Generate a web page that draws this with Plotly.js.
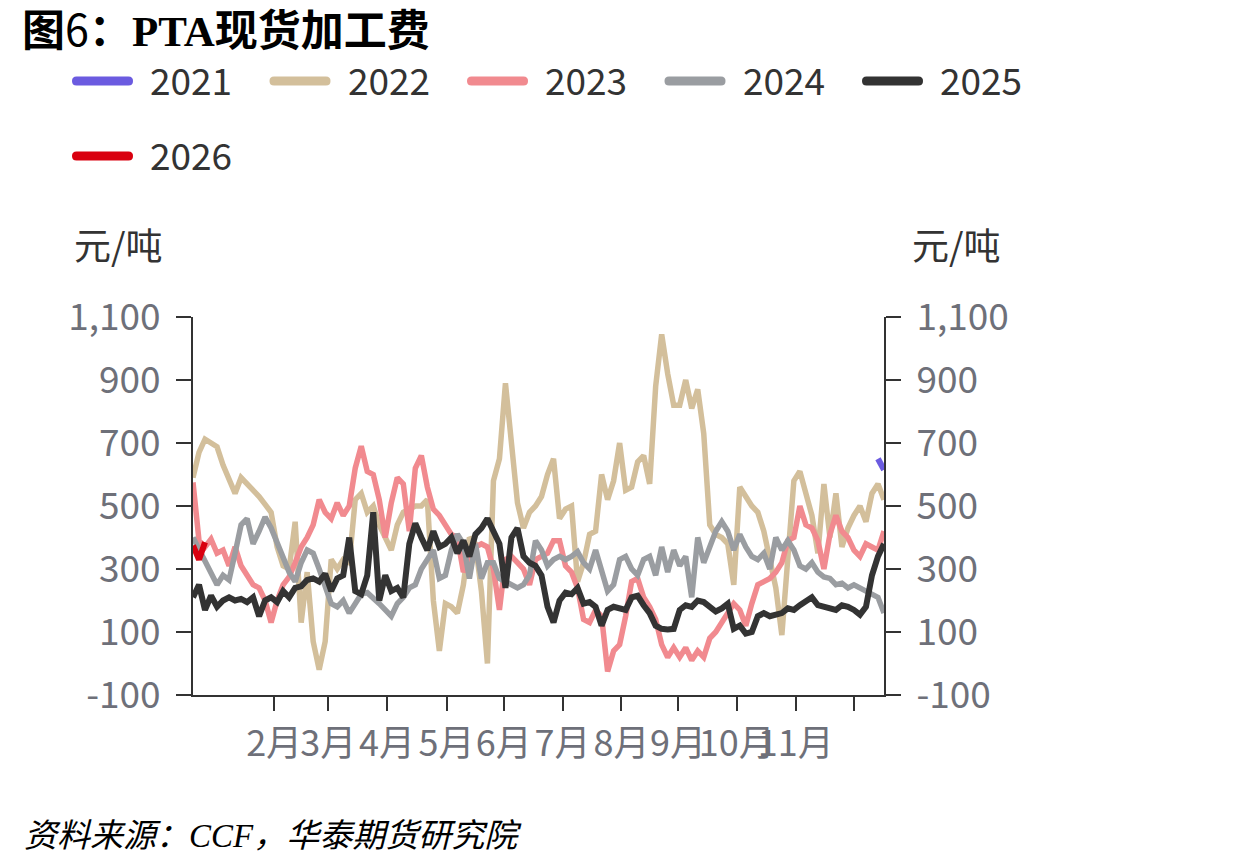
<!DOCTYPE html>
<html>
<head>
<meta charset="utf-8">
<script src="https://cdn.plot.ly/plotly-3.0.1.min.js"></script>
<style>
  html, body { margin: 0; padding: 0; background: #fff; }
  #chart { width: 1240px; height: 866px; }
</style>
</head>
<body>
<div id="chart"></div>
<script>
// PTA spot processing fee (元/吨), one line per year, sampled on a shared seasonal index
const seriesNames = ['2021', '2022', '2023', '2024', '2025', '2026'];
const seriesColors = ['#6B5BE0', '#D3BF9B', '#F18A8F', '#9A9DA1', '#333333', '#D9000F'];

// 2021: only the closing days of the year are present
const start2021 = 114;
const values2021 = [650, 615];

const values2022 = [
  590, 670, 712, 700, 688, 630, 590, 540, 590, 570,
  555, 530, 505, 480, 370, 310, 300, 450, 130, 290,
  70, -20, 70, 330, 300, 330, 320, 520, 540, 480,
  500, 440, 400, 360, 440, 480, 490, 500, 500, 520,
  200, 40, 190, 180, 160, 250, 400, 380, 230, 0,
  580, 650, 890, 700, 510, 430, 480, 500, 530, 600,
  650, 460, 490, 500, 260, 320, 410, 420, 600, 520,
  580, 700, 550, 560, 640, 660, 570, 880, 1045, 920,
  820, 820, 900, 810, 870, 730, 440, 410, 400, 380,
  250, 560, 530, 500, 480, 420, 330, 240, 90, 320,
  580, 610, 540, 470, 350, 570, 400, 540, 370, 430,
  470, 500, 450, 540, 570, 520
];

const values2023 = [
  575, 390, 370, 395, 350, 360, 310, 370, 310, 280,
  250, 240, 200, 130, 200, 250, 275, 320, 370, 400,
  440, 520, 480, 460, 510, 470, 500, 620, 690, 610,
  600, 520, 400, 510, 590, 570, 420, 620, 660, 560,
  490, 470, 440, 410, 400, 290, 340, 370, 380, 370,
  300, 170, 330, 340, 320, 300, 250, 330, 340, 350,
  390, 390, 310, 290, 240, 140, 130, 170, 150, -25,
  40, 60, 150, 260, 270, 210, 180, 140, 60, 20,
  50, 20, 50, 10, 40, 20, 80, 100, 130, 160,
  190, 170, 120, 190, 250, 260, 270, 290, 320, 390,
  400, 500, 440, 430, 390, 300, 410, 470, 420, 400,
  360, 340, 380, 370, 360, 420
];

const values2024 = [
  400, 360, 320, 280, 250, 280, 265, 350, 440, 460,
  380, 420, 465, 430, 380, 330, 290, 260, 320, 360,
  350, 300, 240, 190, 180, 200, 160, 190, 220, 225,
  210, 190, 170, 150, 190, 210, 240, 250, 300, 330,
  360, 270, 280, 360, 410, 380, 270, 380, 270, 320,
  320, 270, 260, 250, 240, 250, 280, 390, 360, 310,
  330, 340, 330, 340, 355, 320, 300, 360, 290, 230,
  250, 330, 340, 300, 280, 330, 340, 280, 370, 290,
  360, 310, 340, 210, 400, 320, 370, 420, 450, 420,
  360, 410, 370, 340, 330, 350, 300, 400, 360, 390,
  360, 310, 300, 320, 290, 275, 270, 250, 255, 240,
  250, 240, 230, 220, 210, 160
];

const values2025 = [
  210, 250, 170, 215, 180, 200, 210, 200, 205, 195,
  210, 150, 200, 210, 195, 230, 210, 240, 245, 265,
  270, 260, 285, 230, 270, 280, 400, 230, 220, 280,
  480, 200, 280, 230, 240, 210, 380, 445, 400, 360,
  420, 370, 380, 400, 350, 390, 340, 410, 430, 460,
  420, 380, 240, 400, 430, 340, 320, 310, 280, 180,
  130, 200, 225, 220, 240, 190, 195, 180, 120, 170,
  180, 175, 170, 210, 215, 185, 160, 120, 110, 108,
  110, 170, 185, 180, 200, 195, 180, 165, 175, 190,
  110, 120, 95, 100, 150, 160, 150, 155, 160, 175,
  170, 185, 195, 210, 185, 180, 175, 170, 185, 180,
  170, 155, 180, 280, 340, 380
];

// 2026: only the opening days so far
const values2026 = [375, 330, 385];

// month boundaries on the seasonal index, with their labels
const monthStarts = [13.5, 22.5, 32.3, 42.2, 51.7, 61.5, 71.3, 80.7, 90.5, 100.3, 110];
const monthLabels = ['2月', '3月', '4月', '5月', '6月', '7月', '8月', '9月', '10月', '11月', ''];

const yTickVals = [-100, 100, 300, 500, 700, 900, 1100];
const yTickText = ['-100', '100', '300', '500', '700', '900', '1,100'];

const unitLabel = '元/吨';
const titleText = '图<span style="font-weight:normal">6</span>：<span style="font-family:\'Liberation Serif\',serif">PTA</span>现货加工费';
const sourceText = '资料来源：<span style="font-family:\'Liberation Serif\',serif">CCF</span>，华泰期货研究院';

// ---- traces ----
function indexRange(start, n) {
  const xs = [];
  for (let i = 0; i < n; i++) xs.push(start + i);
  return xs;
}

const seriesValues = [values2021, values2022, values2023, values2024, values2025, values2026];
const seriesStarts = [start2021, 0, 0, 0, 0, 0];
const lineWidths = [6, 5.5, 5.5, 5.5, 6, 6];

const traces = seriesValues.map((vals, i) => ({
  type: 'scatter',
  mode: 'lines',
  name: seriesNames[i],
  x: indexRange(seriesStarts[i], vals.length),
  y: vals,
  yaxis: i === 0 ? 'y2' : 'y',
  line: { color: seriesColors[i], width: lineWidths[i], shape: 'linear' },
  showlegend: false,
  hoverinfo: 'skip'
}));

// ---- layout helpers (plot area spans 193..884 px horizontally, 317..695 px vertically) ----
const PL = 193, PR = 884, PT = 317, PB = 695;
const px2x = p => (p - PL) / (PR - PL);
const py2y = p => (PB - p) / (PB - PT);

const CJK = '"Noto Sans CJK SC", "Noto Sans", sans-serif';
const tickGray = '#6E7079';
const axisDark = '#333333';

const axisY = {
  range: [-100, 1100],
  tickvals: yTickVals,
  ticktext: yTickText,
  showgrid: false,
  zeroline: false,
  showline: true,
  linecolor: axisDark,
  linewidth: 2,
  ticks: 'outside',
  ticklen: 15,
  tickwidth: 2,
  tickcolor: axisDark,
  ticklabelstandoff: 8,
  tickfont: { family: CJK, size: 37, color: tickGray },
  fixedrange: true
};

// custom legend: rounded swatch + label for each year
const legendShapes = [];
const legendAnnots = [];
seriesNames.forEach((name, i) => {
  const row = Math.floor(i / 5);
  const col = i % 5;
  const sx = 72 + col * 197.5;
  const sy = 81 + row * 75;
  legendShapes.push({
    type: 'path',
    xref: 'paper', yref: 'paper',
    xsizemode: 'pixel', ysizemode: 'pixel',
    xanchor: px2x(sx), yanchor: py2y(sy),
    path: 'M4.5,4.5 L56.5,4.5 Q61,4.5 61,0 Q61,-4.5 56.5,-4.5 L4.5,-4.5 Q0,-4.5 0,0 Q0,4.5 4.5,4.5 Z',
    fillcolor: seriesColors[i],
    line: { width: 0 },
    layer: 'above'
  });
  legendAnnots.push({
    xref: 'paper', yref: 'paper',
    x: px2x(sx + 76), y: py2y(sy - 2),
    xanchor: 'left', yanchor: 'middle',
    text: name,
    showarrow: false,
    font: { family: CJK, size: 37, color: '#333333' }
  });
});

const layout = {
  width: 1240,
  height: 866,
  margin: { l: PL, r: 1240 - PR, t: PT, b: 866 - PB, pad: 0 },
  paper_bgcolor: '#ffffff',
  plot_bgcolor: '#ffffff',
  showlegend: false,
  title: {
    text: titleText,
    x: 22 / 1240, xanchor: 'left', xref: 'container',
    y: 1 - 31 / 866, yanchor: 'middle', yref: 'container',
    font: { family: CJK, size: 43, color: '#000000', weight: 'bold' }
  },
  xaxis: {
    range: [0, 115],
    tickvals: monthStarts,
    ticktext: monthLabels,
    showgrid: false,
    zeroline: false,
    showline: true,
    linecolor: axisDark,
    linewidth: 2,
    ticks: 'outside',
    ticklen: 14,
    tickwidth: 2,
    tickcolor: axisDark,
    ticklabelstandoff: 2,
    tickangle: 0,
    tickfont: { family: CJK, size: 36, color: tickGray },
    fixedrange: true
  },
  yaxis: Object.assign({}, axisY, { side: 'left' }),
  yaxis2: Object.assign({}, axisY, { side: 'right', overlaying: 'y' }),
  shapes: legendShapes,
  annotations: legendAnnots.concat([
    {
      xref: 'paper', yref: 'paper',
      x: px2x(118), y: py2y(244),
      xanchor: 'center', yanchor: 'middle',
      text: unitLabel, showarrow: false,
      font: { family: CJK, size: 37, color: '#333333' }
    },
    {
      xref: 'paper', yref: 'paper',
      x: px2x(957), y: py2y(244),
      xanchor: 'center', yanchor: 'middle',
      text: unitLabel, showarrow: false,
      font: { family: CJK, size: 37, color: '#333333' }
    },
    {
      xref: 'paper', yref: 'paper',
      x: px2x(22), y: py2y(833),
      xanchor: 'left', yanchor: 'middle',
      text: sourceText, showarrow: false,
      font: { family: CJK, size: 33, color: '#000000', style: 'italic' }
    }
  ])
};

Plotly.newPlot('chart', traces, layout, { staticPlot: true, displayModeBar: false });
</script>
</body>
</html>
